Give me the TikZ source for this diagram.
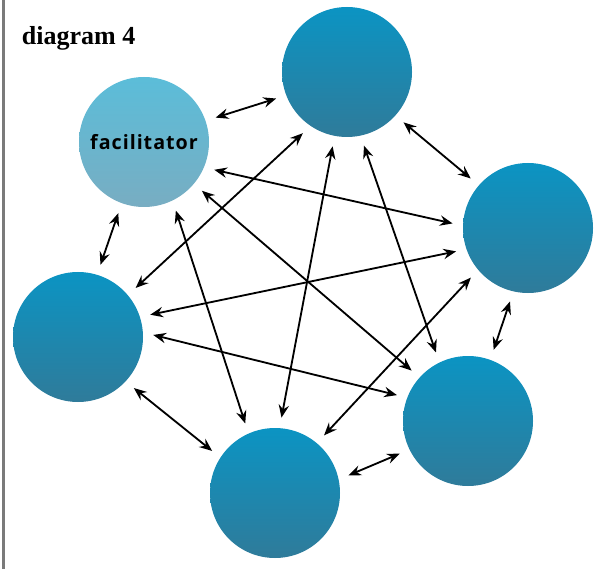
\documentclass[tikz,border=0pt]{standalone}
\usepackage{fontspec}
\setmainfont{Liberation Serif}
\newfontfamily\labelfont[LetterSpace=5]{Open Sans}
\usetikzlibrary{arrows.meta}
\definecolor{memtop}{HTML}{0B94C3}
\definecolor{membot}{HTML}{2F7B9A}
\definecolor{factop}{HTML}{5BBDD9}
\definecolor{facbot}{HTML}{78ADC2}
\definecolor{edge}{HTML}{7A7A7A}
\begin{document}
\begin{tikzpicture}[auto,
    member/.style ={circle, minimum size=3.25cm, inner sep=0pt, top color=memtop, bottom color=membot},
    leader/.style ={member, top color=factop, bottom color=facbot},
    link/.style ={line width=1.3pt, {Stealth[length=3.2mm,width=2.6mm,inset=1.1mm]}-{Stealth[length=3.2mm,width=2.6mm,inset=1.1mm]}, shorten >=0.26cm, shorten <=0.26cm}]
   \useasboundingbox (0,0) rectangle (14.9,14.225);
   \fill[edge] (0.06,0) rectangle (0.135,14.225);
   \node[anchor=base west, font=\bfseries\fontsize{18.5}{20}\selectfont] (T) at (0.425,13.1) {diagram 4};
   \node[leader] (F) at (3.6,10.675) {\labelfont\bfseries\fontsize{14}{16}\selectfont facilitator};
   \node[member] (P1) at (8.675,12.425) {};
   \node[member] (P2) at (13.2,8.525) {};
   \node[member] (P3) at (11.7,3.7) {};
   \node[member] (P4) at (6.875,1.9) {};
   \node[member] (P5) at (1.95,5.8) {};
   \draw[link] (F.19) to (P1.201);
   \draw[link] (P1.318) to (P2.139);
   \draw[link] (P2.257) to (P3.70);
   \draw[link] (P3.206) to (P4.12);
   \draw[link] (P4.147) to (P5.317);
   \draw[link] (P5.73) to (F.250);
   \draw[link] (F.337) to (P2.178);
   \draw[link] (F.320) to (P3.138);
   \draw[link] (F.296) to (P4.114);
   \draw[link] (P1.236) to (P5.40);
   \draw[link] (P1.259) to (P4.86);
   \draw[link] (P1.282) to (P3.116);
   \draw[link] (P5.18) to (P2.199);
   \draw[link] (P5.4) to (P3.159);
   \draw[link] (P4.50) to (P2.220);
\end{tikzpicture}
\end{document}
